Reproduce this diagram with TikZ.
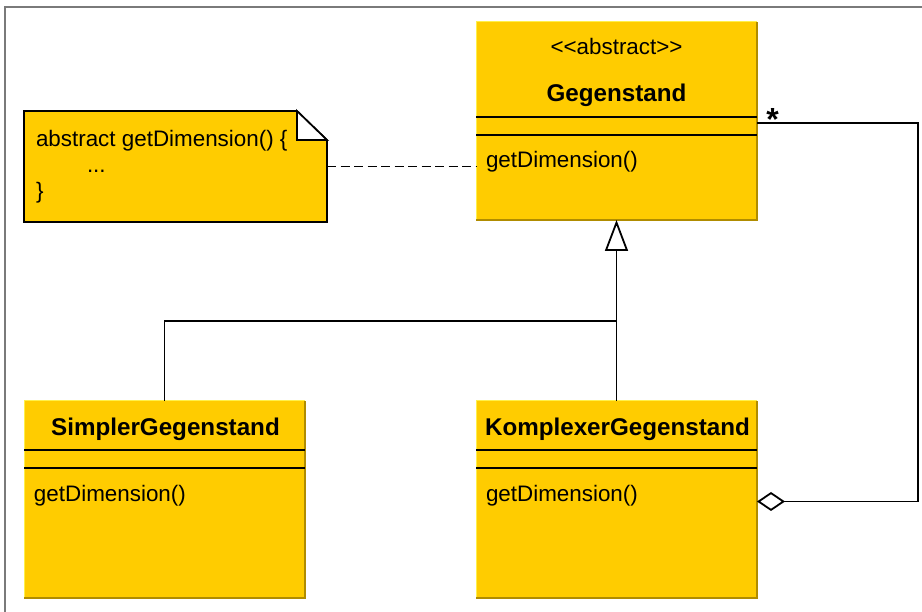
\documentclass[tikz,border=0pt]{standalone}
\usepackage{fontspec}
\setmainfont{Liberation Sans}
\usetikzlibrary{arrows.meta,calc}
\definecolor{umlfill}{HTML}{FFCC00}
\definecolor{hilite}{HTML}{FFF04A}
\definecolor{darkedge}{HTML}{B08C00}
\definecolor{framegray}{HTML}{7A7A7A}
\tikzset{
  classbox/.style={rectangle, anchor=north west, inner sep=0pt, outer sep=0pt, fill=umlfill},
  anchorbox/.style={rectangle, anchor=north west, inner sep=0pt, outer sep=0pt},
  txt/.style={inner sep=0pt, outer sep=0pt, font=\fontsize{22.4}{26}\selectfont},
  btxt/.style={inner sep=0pt, outer sep=0pt, font=\fontsize{24.2}{28}\selectfont\bfseries},
  conn/.style={line width=1.8pt, black},
  sepline/.style={line width=1.7pt, black},
}
\newcommand{\bevel}[1]{%
  \draw[hilite, line width=1pt] (#1.south west) -- (#1.north west) -- (#1.north east);
  \draw[darkedge, line width=2pt] (#1.north east) -- (#1.south east) -- (#1.south west);
}
\begin{document}
\begin{tikzpicture}[x=1pt, y=-1pt]
\useasboundingbox (0,0) rectangle (922,612);
% outer frame
\draw[framegray, line width=2pt] (5,612) -- (5,7.5) -- (922,7.5);

% Gegenstand
\node[classbox, minimum width=281pt, minimum height=198pt] (geg) at (476,22) {};
\bevel{geg}
\draw[sepline] ($(geg.north west)+(0,95)$) -- ($(geg.north east)+(0,95)$);
\draw[sepline] ($(geg.north west)+(0,113)$) -- ($(geg.north east)+(0,113)$);
\node[txt, anchor=base] (gegster) at (616.5,55) {{<}{<}abstract{>}{>}};
\node[btxt, anchor=base] (gegname) at (616.5,102) {Gegenstand};
\node[txt, anchor=base west] (gegop) at (486,168) {getDimension()};

% SimplerGegenstand
\node[classbox, minimum width=281pt, minimum height=197pt] (simp) at (24,401) {};
\bevel{simp}
\draw[sepline] ($(simp.north west)+(0,49)$) -- ($(simp.north east)+(0,49)$);
\draw[sepline] ($(simp.north west)+(0,67)$) -- ($(simp.north east)+(0,67)$);
\node[btxt, anchor=base] (simpname) at (165.5,436) {SimplerGegenstand};
\node[txt, anchor=base west] (simpop) at (34,501) {getDimension()};

% KomplexerGegenstand
\node[classbox, minimum width=281pt, minimum height=197pt] (komp) at (476,401) {};
\bevel{komp}
\draw[sepline] ($(komp.north west)+(0,49)$) -- ($(komp.north east)+(0,49)$);
\draw[sepline] ($(komp.north west)+(0,67)$) -- ($(komp.north east)+(0,67)$);
\node[btxt, anchor=base] (kompname) at (617.5,436) {KomplexerGegenstand};
\node[txt, anchor=base west] (kompop) at (486,501) {getDimension()};

% Note
\node[anchorbox, minimum width=303pt, minimum height=111pt] (note) at (24,111) {};
\draw[line width=1.7pt, fill=umlfill] (note.north west) -- ($(note.north east)+(-30,0)$) -- ($(note.north east)+(0,29)$) -- (note.south east) -- (note.south west) -- cycle;
\draw[line width=1.7pt, fill=white] ($(note.north east)+(-30,0)$) -- ($(note.north east)+(-30,29)$) -- ($(note.north east)+(0,29)$) -- cycle;
\node[txt, anchor=base west] (n1) at (36,147) {abstract getDimension() \{};
\node[txt, anchor=base west] (n2) at (87,173) {...};
\node[txt, anchor=base west] (n3) at (36,199) {\}};

% note link
\draw[conn, dash pattern=on 9pt off 4.5pt] (note.east) -- (note.east -| geg.west);

% inheritance
\coordinate (junc) at (616.5,321);
\draw[conn] (simp.north) |- (junc);
\draw[conn, -{Triangle[open, length=31pt, width=23pt, line width=1.8pt]}] (komp.north) -- (junc) -- (geg.south);

% aggregation
\coordinate (aggA) at ($(komp.north east)+(0,100.5)$);
\coordinate (aggB) at ($(geg.north east)+(0,101)$);
\coordinate (aggC) at (918,0);
\draw[conn, {Diamond[open, length=28pt, width=19pt, line width=1.8pt]}-] (aggA) -| (aggC |- aggB) -- (aggB);
\node[inner sep=0pt, outer sep=0pt, font=\fontsize{32}{34}\selectfont\bfseries, anchor=base] (mult) at (772.5,131) {*};
\end{tikzpicture}
\end{document}
